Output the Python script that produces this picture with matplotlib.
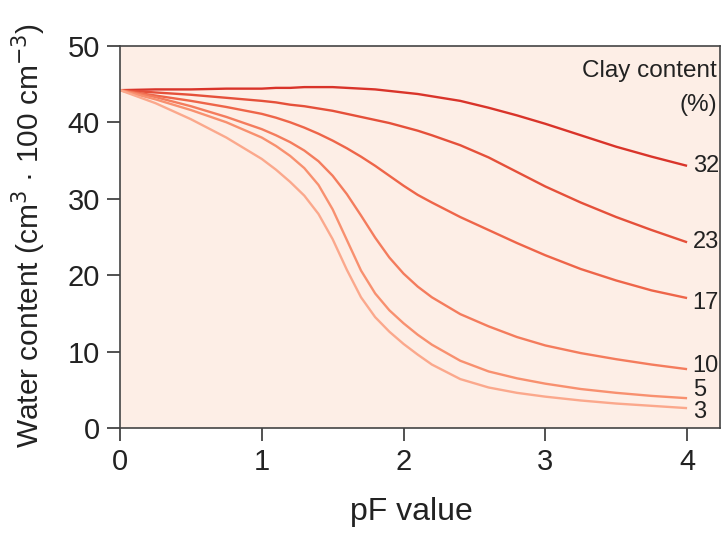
import matplotlib
matplotlib.use("Agg")
import matplotlib.pyplot as plt

plt.rcParams['font.family'] = ['Liberation Sans', 'DejaVu Sans']

pf = [0, 0.25, 0.5, 0.75, 1.0, 1.1, 1.2, 1.3, 1.4, 1.5, 1.6, 1.7, 1.8, 1.9, 2.0,
      2.1, 2.2, 2.4, 2.6, 2.8, 3.0, 3.25, 3.5, 3.75, 4.0]

clay32 = [44.2, 44.3, 44.3, 44.4, 44.4, 44.5, 44.5, 44.6, 44.6, 44.6, 44.5, 44.4, 44.3,
          44.1, 43.9, 43.7, 43.4, 42.8, 41.9, 40.9, 39.8, 38.3, 36.8, 35.5, 34.3]
clay23 = [44.2, 43.9, 43.6, 43.2, 42.8, 42.6, 42.3, 42.1, 41.8, 41.5, 41.1, 40.7, 40.3,
          39.9, 39.4, 38.9, 38.3, 37.0, 35.4, 33.5, 31.6, 29.5, 27.6, 25.9, 24.3]
clay17 = [44.2, 43.5, 42.8, 42.0, 41.1, 40.6, 40.0, 39.3, 38.5, 37.6, 36.6, 35.5, 34.3,
          33.0, 31.7, 30.5, 29.5, 27.6, 25.9, 24.2, 22.6, 20.8, 19.3, 18.0, 17.0]
clay10 = [44.2, 43.3, 42.1, 40.7, 39.1, 38.3, 37.4, 36.3, 34.9, 33.0, 30.6, 27.8, 24.9,
          22.3, 20.2, 18.5, 17.1, 14.9, 13.3, 11.9, 10.8, 9.8, 9.0, 8.3, 7.7]
clay5 = [44.2, 43.0, 41.6, 40.0, 38.0, 36.9, 35.6, 34.0, 31.8, 28.6, 24.6, 20.6, 17.6,
         15.4, 13.7, 12.2, 10.9, 8.8, 7.4, 6.5, 5.8, 5.1, 4.6, 4.2, 3.9]
clay3 = [44.2, 42.5, 40.4, 38.0, 35.2, 33.8, 32.2, 30.4, 28.0, 24.7, 20.7, 17.1, 14.5,
         12.6, 11.0, 9.6, 8.3, 6.4, 5.3, 4.6, 4.1, 3.6, 3.2, 2.9, 2.6]

labels = ["32", "23", "17", "10", "5", "3"]
series = [clay32, clay23, clay17, clay10, clay5, clay3]
colors = ["#d9342a", "#e5503a", "#ee6549", "#f47c5d", "#f8906f", "#fba88c"]
# vertical nudge of the end labels (points)
label_dy = [0, 0, -3.5, 2.5, 6, -3]

xticks = [0, 1, 2, 3, 4]
yticks = [0, 10, 20, 30, 40, 50]

fig = plt.figure(figsize=(7.23, 5.33), dpi=100)
ax = fig.add_axes([0.166, 0.197, 0.830, 0.717])
ax.set_facecolor("#fdeee6")

for lab, vals, c, dy in zip(labels, series, colors, label_dy):
    ax.plot(pf, vals, color=c, lw=1.7, solid_capstyle='butt',
            solid_joinstyle='round')
    ax.annotate(lab, xy=(pf[-1], vals[-1]), xytext=(4, dy),
                textcoords="offset points", fontsize=17, color="#222222",
                va="center", ha="left")

ax.text(0.995, 0.935, "Clay content", transform=ax.transAxes, fontsize=17.5,
        color="#222222", ha="right", va="center")
ax.text(0.995, 0.845, "(%)", transform=ax.transAxes, fontsize=17.5,
        color="#222222", ha="right", va="center")

ax.set_xlim(0, 4.233)
ax.set_ylim(0, 50)
ax.set_xticks(xticks)
ax.set_yticks(yticks)
ax.tick_params(direction="out", length=9.5, width=1.2, colors="#333333",
               labelsize=21, labelcolor="#222222", pad=5)
for s in ax.spines.values():
    s.set_color("#444444")
    s.set_linewidth(1.2)

ax.set_xlabel("pF value", fontsize=23, color="#222222")
ax.xaxis.set_label_coords(0.485, -0.181)
ax.set_ylabel("Water content (cm$^{3}$ · 100 cm$^{-3}$)", fontsize=21.5,
              color="#222222")
ax.yaxis.set_label_coords(-0.12, 0.503)

fig.savefig("out.png", dpi=100)
